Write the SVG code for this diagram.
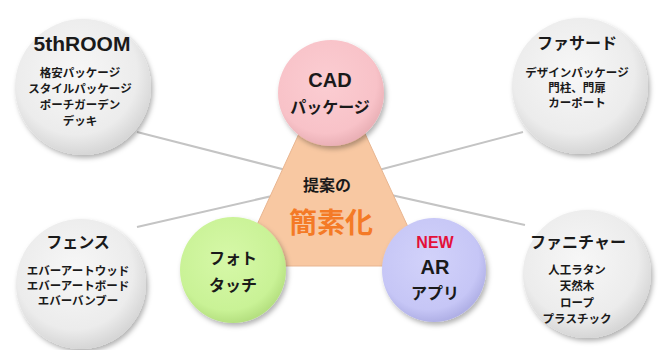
<svg xmlns="http://www.w3.org/2000/svg" width="658" height="350" viewBox="0 0 658 350">
<defs>
<radialGradient id="gGray" cx="45%" cy="40%" r="60%">
<stop offset="0" stop-color="#f7f7f7"/><stop offset="0.75" stop-color="#ececec"/><stop offset="1" stop-color="#d6d6d6"/>
</radialGradient>
<radialGradient id="gPink" cx="45%" cy="40%" r="60%">
<stop offset="0" stop-color="#fbcdd2"/><stop offset="0.8" stop-color="#f8c2c8"/><stop offset="1" stop-color="#eab0b6"/>
</radialGradient>
<radialGradient id="gGreen" cx="45%" cy="40%" r="60%">
<stop offset="0" stop-color="#d6f8a8"/><stop offset="0.8" stop-color="#c9f296"/><stop offset="1" stop-color="#b5e080"/>
</radialGradient>
<radialGradient id="gBlue" cx="45%" cy="40%" r="60%">
<stop offset="0" stop-color="#d2d2fa"/><stop offset="0.8" stop-color="#c6c6f6"/><stop offset="1" stop-color="#b0b0e6"/>
</radialGradient>
<filter id="sh" x="-20%" y="-20%" width="150%" height="150%">
<feDropShadow dx="2" dy="3" stdDeviation="2.5" flood-color="#000" flood-opacity="0.3"/>
</filter>
</defs>
<style>
.conn{stroke:#c4c4c4;stroke-width:2;fill:none}
.jp{font-family:"Noto Sans CJK JP","Noto Sans",sans-serif;font-weight:bold;fill:#1a1a1a;text-anchor:middle}
.en{font-family:"Liberation Sans",Arial,sans-serif;font-weight:bold;fill:#1a1a1a;text-anchor:middle}
.t{font-size:16px}
.i{font-size:11.5px}
</style>
<rect width="658" height="350" fill="#ffffff"/>
<g id="connectors">
<line class="conn" x1="137" y1="132" x2="333" y2="182"/>
<line class="conn" x1="137" y1="227" x2="333" y2="182"/>
<line class="conn" x1="523" y1="132" x2="333" y2="182"/>
<line class="conn" x1="525" y1="225" x2="333" y2="182"/>
</g>
<g id="center">
<path d="M332,62 L426,266 L238,266 Z" fill="#f8c8a2" stroke="#e8b590" stroke-width="1" stroke-linejoin="round"/>
<text class="jp" x="327" y="191" font-size="16">提案の</text>
<text class="jp" x="331" y="233" font-size="28" fill="#f47a26" style="fill:#f47a26">簡素化</text>
</g>
<g id="n5throom">
<circle cx="83" cy="87" r="68" fill="url(#gGray)" filter="url(#sh)"/>
<text class="en" x="82" y="51" font-size="21">5thROOM</text>
<text class="jp i" x="80" y="77">格安パッケージ</text>
<text class="jp i" x="80" y="93">スタイルパッケージ</text>
<text class="jp i" x="80" y="109">ポーチガーデン</text>
<text class="jp i" x="80" y="125">デッキ</text>
</g>
<g id="facade">
<circle cx="580" cy="86" r="68" fill="url(#gGray)" filter="url(#sh)"/>
<text class="jp t" x="577" y="49">ファサード</text>
<text class="jp i" x="577" y="77">デザインパッケージ</text>
<text class="jp i" x="577" y="92">門柱、門扉</text>
<text class="jp i" x="577" y="107">カーポート</text>
</g>
<g id="fence">
<circle cx="81" cy="284" r="65" fill="url(#gGray)" filter="url(#sh)"/>
<text class="jp t" x="78" y="248">フェンス</text>
<text class="jp i" x="78" y="275">エバーアートウッド</text>
<text class="jp i" x="78" y="290">エバーアートボード</text>
<text class="jp i" x="78" y="305">エバーバンブー</text>
</g>
<g id="furniture">
<circle cx="587" cy="274" r="64" fill="url(#gGray)" filter="url(#sh)"/>
<text class="jp t" x="578" y="248">ファニチャー</text>
<text class="jp i" x="577" y="274">人工ラタン</text>
<text class="jp i" x="577" y="290">天然木</text>
<text class="jp i" x="577" y="307">ロープ</text>
<text class="jp i" x="577" y="323">プラスチック</text>
</g>
<g id="cad">
<circle cx="331" cy="93" r="53" fill="url(#gPink)" filter="url(#sh)"/>
<text class="en" x="330" y="87" font-size="20">CAD</text>
<text class="jp t" x="330" y="113">パッケージ</text>
</g>
<g id="photo">
<circle cx="233" cy="270" r="53" fill="url(#gGreen)" filter="url(#sh)"/>
<text class="jp t" x="233" y="264">フォト</text>
<text class="jp t" x="233" y="291">タッチ</text>
</g>
<g id="ar">
<circle cx="434" cy="270" r="52" fill="url(#gBlue)" filter="url(#sh)"/>
<text class="en" x="435" y="248" font-size="16" style="fill:#e4103a">NEW</text>
<text class="en" x="435" y="274" font-size="20">AR</text>
<text class="jp t" x="435" y="299">アプリ</text>
</g>
</svg>
